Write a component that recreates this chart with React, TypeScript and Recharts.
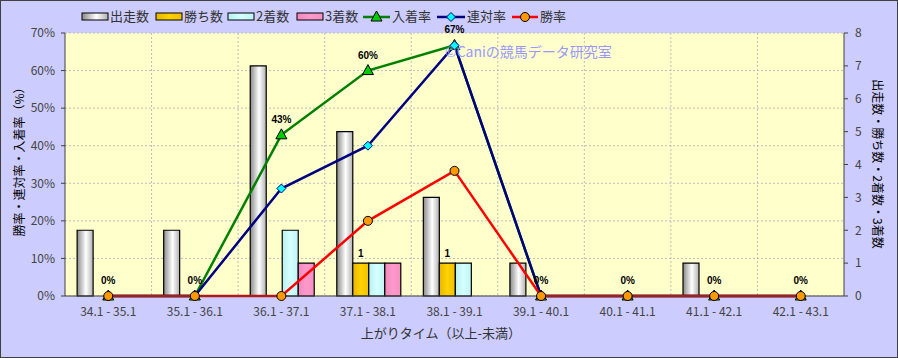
import React from 'react'
import {
  ComposedChart,
  Bar,
  Line,
  XAxis,
  YAxis,
  CartesianGrid,
  LabelList,
} from 'recharts'

const categories = [
  '34.1 - 35.1',
  '35.1 - 36.1',
  '36.1 - 37.1',
  '37.1 - 38.1',
  '38.1 - 39.1',
  '39.1 - 40.1',
  '40.1 - 41.1',
  '41.1 - 42.1',
  '42.1 - 43.1',
]
const runs = [2, 2, 7, 5, 3, 1, 0, 1, 0]
const wins = [0, 0, 0, 1, 1, 0, 0, 0, 0]
const seconds = [0, 0, 2, 1, 1, 0, 0, 0, 0]
const thirds = [0, 0, 1, 1, 0, 0, 0, 0, 0]
const placeRate = [0, 0, 42.9, 60, 66.7, 0, 0, 0, 0]
const quinellaRate = [0, 0, 28.6, 40, 66.7, 0, 0, 0, 0]
const winRate = [0, 0, 0, 20, 33.3, 0, 0, 0, 0]
const leftTicks = [0, 10, 20, 30, 40, 50, 60, 70]
const rightTicks = [0, 1, 2, 3, 4, 5, 6, 7, 8]

const data = categories.map((name, i) => ({
  name,
  runs: runs[i],
  wins: wins[i],
  seconds: seconds[i],
  thirds: thirds[i],
  placeRate: placeRate[i],
  quinellaRate: quinellaRate[i],
  winRate: winRate[i],
}))

const jp = "'Noto Sans CJK JP', sans-serif"

const Triangle = (props: any) => {
  const { cx, cy } = props
  if (cx == null || cy == null) return null
  return (
    <path
      d={`M${cx},${cy - 6} L${cx + 5.5},${cy + 4} L${cx - 5.5},${cy + 4} Z`}
      fill='#00CC00'
      stroke='#000'
      strokeWidth={1}
    />
  )
}

const Diamond = (props: any) => {
  const { cx, cy } = props
  if (cx == null || cy == null) return null
  return (
    <path
      d={`M${cx},${cy - 4.5} L${cx + 4.5},${cy} L${cx},${cy + 4.5} L${cx - 4.5},${cy} Z`}
      fill='#00FFFF'
      stroke='#000080'
      strokeWidth={1}
    />
  )
}

const Circle = (props: any) => {
  const { cx, cy } = props
  if (cx == null || cy == null) return null
  return <circle cx={cx} cy={cy} r={4.5} fill='#FF9900' stroke='#000' strokeWidth={1} />
}

const legendBars = [
  { x: 82, label: '出走数', fill: 'url(#gRuns)' },
  { x: 156, label: '勝ち数', fill: 'url(#gWins)' },
  { x: 228, label: '2着数', fill: 'url(#gSec)' },
  { x: 297, label: '3着数', fill: 'url(#gThird)' },
]

export default function App() {
  return (
    <div style={{ position: 'relative', width: 898, height: 358, background: '#CCCCFF' }}>
      <style>{`body{margin:0}`}</style>
      <ComposedChart
        width={898}
        height={358}
        data={data}
        margin={{ top: 33, right: 0, bottom: 32, left: 0 }}
        barCategoryGap='14%'
        barGap={0}
      >
        <defs>
          <linearGradient id='gRuns' x1='0' y1='0' x2='1' y2='0'>
            <stop offset='0%' stopColor='#8a8a8a' />
            <stop offset='55%' stopColor='#ffffff' />
            <stop offset='100%' stopColor='#b0b0b0' />
          </linearGradient>
          <linearGradient id='gWins' x1='0' y1='0' x2='1' y2='0'>
            <stop offset='0%' stopColor='#E6B800' />
            <stop offset='50%' stopColor='#FFD200' />
            <stop offset='100%' stopColor='#F0C000' />
          </linearGradient>
          <linearGradient id='gSec' x1='0' y1='0' x2='1' y2='0'>
            <stop offset='0%' stopColor='#B8F0F0' />
            <stop offset='50%' stopColor='#D4FFFF' />
            <stop offset='100%' stopColor='#C0F4F4' />
          </linearGradient>
          <linearGradient id='gThird' x1='0' y1='0' x2='1' y2='0'>
            <stop offset='0%' stopColor='#F088BB' />
            <stop offset='50%' stopColor='#FF99CC' />
            <stop offset='100%' stopColor='#F590C2' />
          </linearGradient>
        </defs>
        <CartesianGrid
          yAxisId='left'
          fill='#FFFFCC'
          stroke='#BDBDBD'
          strokeDasharray='2 2'
          verticalCoordinatesGenerator={({ offset }: any) =>
            Array.from({ length: 8 }, (_, i) => offset.left + ((i + 1) * offset.width) / 9)
          }
        />
        <XAxis
          dataKey='name'
          height={30}
          tickLine={false}
          axisLine={{ stroke: '#404040' }}
          tick={{ fontSize: 12, fill: '#444', fontFamily: jp }}
          tickMargin={5}
          interval={0}
        />
        <YAxis
          yAxisId='left'
          width={65}
          domain={[0, 70]}
          ticks={leftTicks}
          tickFormatter={(v) => `${v}%`}
          tick={{ fontSize: 12, fill: '#444', fontFamily: jp }}
          tickSize={4}
          tickMargin={6}
          axisLine={{ stroke: '#404040' }}
          tickLine={{ stroke: '#404040' }}
        />
        <YAxis
          yAxisId='right'
          orientation='right'
          width={54}
          domain={[0, 8]}
          ticks={rightTicks}
          tick={{ fontSize: 12, fill: '#444', fontFamily: jp }}
          tickSize={4}
          tickMargin={7}
          axisLine={{ stroke: '#404040' }}
          tickLine={{ stroke: '#404040' }}
        />
        <Bar yAxisId='right' dataKey='runs' fill='url(#gRuns)' stroke='#000' strokeWidth={1.2} isAnimationActive={false} />
        <Bar yAxisId='right' dataKey='wins' fill='url(#gWins)' stroke='#000' strokeWidth={1.2} isAnimationActive={false}>
          <LabelList
            dataKey='wins'
            position='top'
            offset={6}
            formatter={(v: any) => (v > 0 ? v : '')}
            style={{ fontSize: 10, fontWeight: 'bold', fill: '#000', fontFamily: 'Liberation Sans' }}
          />
        </Bar>
        <Bar yAxisId='right' dataKey='seconds' fill='url(#gSec)' stroke='#000' strokeWidth={1.2} isAnimationActive={false} />
        <Bar yAxisId='right' dataKey='thirds' fill='url(#gThird)' stroke='#000' strokeWidth={1.2} isAnimationActive={false} />
        <Line
          yAxisId='left'
          dataKey='placeRate'
          stroke='#008000'
          strokeWidth={2.5}
          dot={<Triangle />}
          activeDot={false}
          isAnimationActive={false}
        >
          <LabelList
            dataKey='placeRate'
            position='top'
            offset={12}
            formatter={(v: any) => `${Math.round(v)}%`}
            style={{ fontSize: 10, fontWeight: 'bold', fill: '#000', fontFamily: 'Liberation Sans' }}
          />
        </Line>
        <Line
          yAxisId='left'
          dataKey='quinellaRate'
          stroke='#000080'
          strokeWidth={2.5}
          dot={<Diamond />}
          activeDot={false}
          isAnimationActive={false}
        />
        <Line
          yAxisId='left'
          dataKey='winRate'
          stroke='#FF0000'
          strokeWidth={2.5}
          dot={<Circle />}
          activeDot={false}
          isAnimationActive={false}
        />
      </ComposedChart>
      <svg
        width={898}
        height={358}
        style={{ position: 'absolute', left: 0, top: 0, pointerEvents: 'none' }}
        fontFamily={jp}
      >
        {legendBars.map((b) => (
          <g key={b.label}>
            <rect x={b.x} y={13} width={26} height={7} fill={b.fill} stroke='#000' strokeWidth={1} />
            <text x={b.x + 28} y={21} fontSize={13} fill='#333'>
              {b.label}
            </text>
          </g>
        ))}
        <line x1={363} y1={17} x2={390} y2={17} stroke='#008000' strokeWidth={2.5} />
        <Triangle cx={376.5} cy={17} />
        <text x={392} y={21} fontSize={13} fill='#333'>入着率</text>
        <line x1={437} y1={17} x2={465} y2={17} stroke='#000080' strokeWidth={2.5} />
        <Diamond cx={451} cy={17} />
        <text x={467} y={21} fontSize={13} fill='#333'>連対率</text>
        <line x1={512} y1={17} x2={538} y2={17} stroke='#FF0000' strokeWidth={2.5} />
        <Circle cx={525} cy={17} />
        <text x={540} y={21} fontSize={13} fill='#333'>勝率</text>

        <text x={445} y={57} fontSize={14} fill='#9999FF'>©Caniの競馬データ研究室</text>

        <text x={441} y={338} fontSize={13} fill='#333' textAnchor='middle'>
          上がりタイム（以上-未満）
        </text>
        <text
          x={0}
          y={0}
          fontSize={12}
          fill='#000'
          textAnchor='middle'
          transform='translate(24,159) rotate(-90)'
        >
          勝率・連対率・入着率（%）
        </text>
        <text
          x={0}
          y={0}
          fontSize={12}
          fill='#000'
          textAnchor='middle'
          transform='translate(873,164) rotate(90)'
        >
          出走数・勝ち数・2着数・3着数
        </text>
        <rect x={0.5} y={0.5} width={897} height={357} fill='none' stroke='#404040' strokeWidth={1} />
      </svg>
    </div>
  )
}
